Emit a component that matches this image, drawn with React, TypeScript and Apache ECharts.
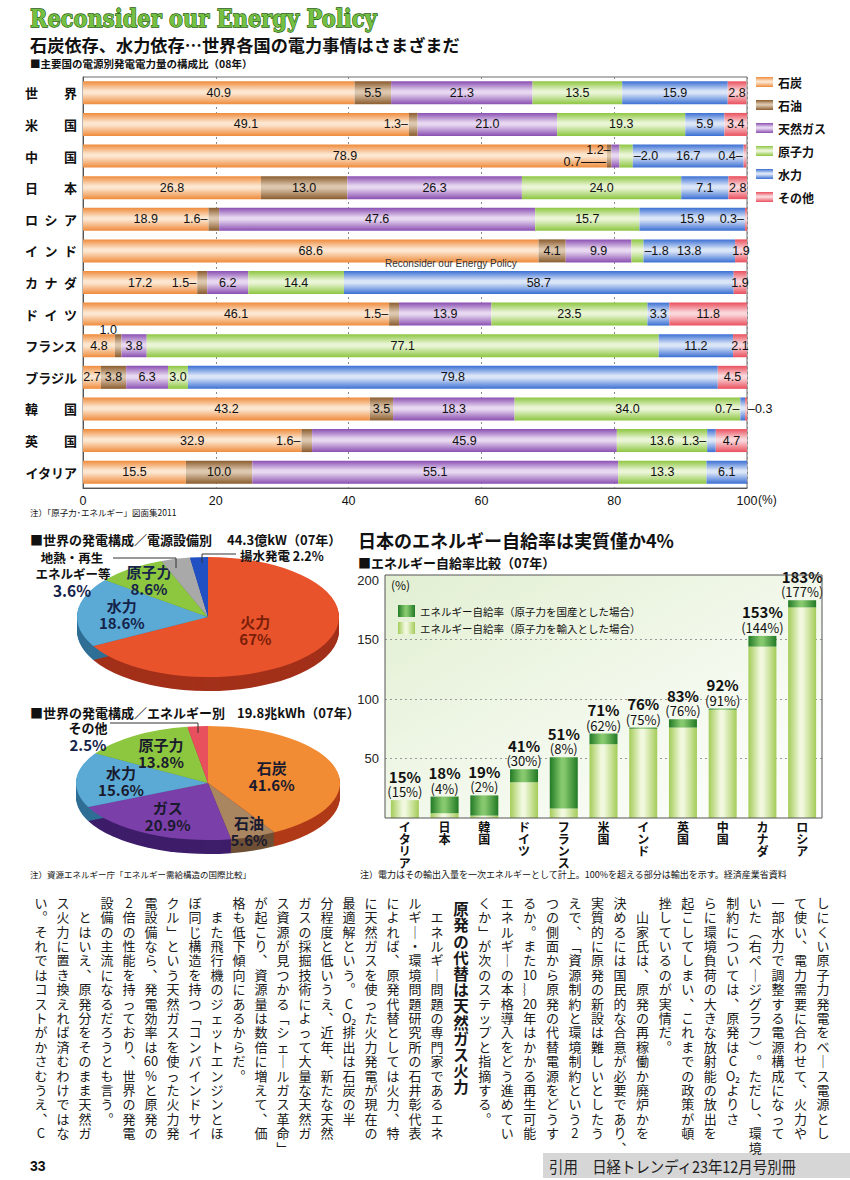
import React, { useEffect, useRef } from 'react';
import * as echarts from 'echarts';

const JP = '"Noto Sans CJK JP", "Noto Sans", sans-serif';
const LAT = '"Liberation Sans", "DejaVu Sans", sans-serif';

// ===== Chart 1: 主要国の電源別発電電力量の構成比（08年）
const countries = ['世界', '米国', '中国', '日本', 'ロシア', 'インド', 'カナダ', 'ドイツ', 'フランス', 'ブラジル', '韓国', '英国', 'イタリア'];
const energyTypes = ['石炭', '石油', '天然ガス', '原子力', '水力', 'その他'];
const coal = [40.9, 49.1, 78.9, 26.8, 18.9, 68.6, 17.2, 46.1, 4.8, 2.7, 43.2, 32.9, 15.5];
const oil = [5.5, 1.3, 0.7, 13.0, 1.6, 4.1, 1.5, 1.5, 1.0, 3.8, 3.5, 1.6, 10.0];
const gas = [21.3, 21.0, 1.2, 26.3, 47.6, 9.9, 6.2, 13.9, 3.8, 6.3, 18.3, 45.9, 55.1];
const nuclear = [13.5, 19.3, 2.0, 24.0, 15.7, 1.8, 14.4, 23.5, 77.1, 3.0, 34.0, 13.6, 13.3];
const hydro = [15.9, 5.9, 16.7, 7.1, 15.9, 13.8, 58.7, 3.3, 11.2, 79.8, 0.7, 1.3, 6.1];
const other = [2.8, 3.4, 0.4, 2.8, 0.3, 1.9, 1.9, 11.8, 2.1, 4.5, 0.3, 4.7, 0];
const shareTicks = [0, 20, 40, 60, 80, 100];
// labels drawn outside a thin segment: [country, energy index, side, dy, dashes]
const outsideLabels: [string, number, string, number, number][] = [
  ['米国', 1, 'left', 0, 1],
  ['中国', 1, 'left', 6, 2],
  ['中国', 2, 'left', -6, 1],
  ['中国', 3, 'right', 0, 1],
  ['中国', 5, 'left', 0, 1],
  ['ロシア', 1, 'left', 0, 1],
  ['ロシア', 5, 'left', 0, 1],
  ['インド', 3, 'right', 0, 1],
  ['カナダ', 1, 'left', 0, 1],
  ['ドイツ', 1, 'left', 0, 1],
  ['フランス', 1, 'top', 0, 0],
  ['韓国', 4, 'left', 0, 1],
  ['韓国', 5, 'right', 0, 1],
  ['英国', 1, 'left', 0, 1],
  ['英国', 4, 'left', 0, 1],
];

// ===== Pies
const capacityNames = ['火力', '水力', '原子力', '地熱・再生エネルギー等', '揚水発電'];
const capacityValues = [67, 18.6, 8.6, 3.6, 2.2];
const generationNames = ['石炭', '石油', 'ガス', '水力', '原子力', 'その他'];
const generationValues = [41.6, 5.6, 20.9, 15.6, 13.8, 2.5];

// ===== Chart 2: エネルギー自給率比較（07年）
const selfCountries = ['イタリア', '日本', '韓国', 'ドイツ', 'フランス', '米国', 'インド', '英国', '中国', 'カナダ', 'ロシア'];
const selfDomestic = [15, 18, 19, 41, 51, 71, 76, 83, 92, 153, 183];
const selfImported = [15, 4, 2, 30, 8, 62, 75, 76, 91, 144, 177];
const selfTicks = [0, 50, 100, 150, 200];
const selfSeriesNames = ['エネルギー自給率（原子力を国産とした場合）', 'エネルギー自給率（原子力を輸入とした場合）'];

// ===== Article (vertical columns, right to left)
const articleRight = [
  'しにくい原子力発電をベース電源とし',
  'て使い、電力需要に合わせて、火力や',
  '一部水力で調整する電源構成になって',
  'いた（右ページグラフ）。ただし、環境',
  '制約については、原発はCO₂よりさ',
  'らに環境負荷の大きな放射能の放出を',
  '起こしてしまい、これまでの政策が頓',
  '挫しているのが実情だ。',
  '　山家氏は、原発の再稼働か廃炉かを',
  '決めるには国民的な合意が必要であり、',
  '実質的に原発の新設は難しいとしたう',
  'えで、「資源制約と環境制約という2',
  'つの側面から原発の代替電源をどうす',
  'るか。また10～20年はかかる再生可能',
  'エネルギーの本格導入をどう進めてい',
  'くか」が次のステップと指摘する。',
];
const articleHeading = '原発の代替は天然ガス火力';
const articleLeft = [
  '　エネルギー問題の専門家であるエネ',
  'ルギー・環境問題研究所の石井彰代表',
  'によれば、原発代替としては火力、特',
  'に天然ガスを使った火力発電が現在の',
  '最適解という。CO₂排出は石炭の半',
  '分程度と低いうえ、近年、新たな天然',
  'ガスの採掘技術によって大量な天然ガ',
  'ス資源が見つかる「シェールガス革命」',
  'が起こり、資源量は数倍に増えて、価',
  '格も低下傾向にあるからだ。',
  '　また飛行機のジェットエンジンとほ',
  'ぼ同じ構造を持つ「コンバインドサイ',
  'クル」という天然ガスを使った火力発',
  '電設備なら、発電効率は60%と原発の',
  '2倍の性能を持っており、世界の発電',
  '設備の主流になるだろうとも言う。',
  '　とはいえ、原発分をそのまま天然ガ',
  'ス火力に置き換えれば済むわけではな',
  'い。それではコストがかさむうえ、C',
];

// ===== styles
const energyColors = ['#EF8B3B', '#8B5C2E', '#8A4FB2', '#8DC641', '#3B6FD3', '#E9505D'];
const energyLights = ['#FCE6D0', '#DCC7AE', '#E7D7F0', '#EAF5D6', '#DAE5F8', '#FAD6DA'];
const capColors = ['#E9532C', '#5BAAD6', '#8DC63F', '#A9A9AA', '#2050C2'];
const capSides = ['#A3301A', '#2F6F95', '#5C8A25', '#6F6F70', '#163A8A'];
const capLabelK = [0.42, 0.66, 0.76, -1, -1];
const capLabelColors = ['#7A1E08', '#15234A', '#15234A', '#111', '#111'];
const genColors = ['#F28C34', '#A98560', '#7B3FA9', '#5BAAD6', '#8DC63F', '#E9505E'];
const genSides = ['#B03A18', '#6E5036', '#3E1D6A', '#2F6F95', '#5C8A25', '#A0303A'];
const genLabelK = [0.5, 0.9, 0.66, 0.66, 0.64, -1];
const genLabelColors = ['#1A1A2E', '#1A1A2E', '#1A1A2E', '#1A1A2E', '#1A1A2E', '#111'];

function gloss(base: string, light: string, horizontal = false) {
  return new echarts.graphic.LinearGradient(0, 0, horizontal ? 1 : 0, horizontal ? 0 : 1, [
    { offset: 0, color: base },
    { offset: 0.42, color: light },
    { offset: 0.52, color: light },
    { offset: 1, color: base },
  ]);
}

function spacedName(s: string) {
  if (s.length === 2) return s[0] + '　　' + s[1];
  if (s.length === 3) return s.split('').join('\u2002');
  return s;
}

const vmap: Record<string, string> = {
  '、': '︑', '。': '︒', '「': '﹁', '」': '﹂', '（': '︵', '）': '︶', 'ー': '｜', '～': '︴', '…': '︙',
};
function vcells(s: string) {
  const cells: string[] = [];
  for (const ch of s) {
    const last = cells[cells.length - 1];
    if (/[0-9]/.test(ch) && last !== undefined && /[0-9]$/.test(last)) { cells[cells.length - 1] = last + ch; continue; }
    if (ch === '₂' && last !== undefined) { cells[cells.length - 1] = last + ch; continue; }
    cells.push(vmap[ch] || ch);
  }
  return cells;
}

function pieSeries(values: number[], names: string[], colors: string[], sides: string[], labelK: number[], labelColors: string[],
  cx: number, cy: number, rx: number, ry: number, depth: number) {
  const total = values.reduce((a, b) => a + b, 0);
  const starts: number[] = [];
  let acc = 0;
  values.forEach((v) => { starts.push(acc); acc += v; });
  const sy = ry / rx;
  const ang = (i: number) => [
    -Math.PI / 2 + (2 * Math.PI * starts[i]) / total,
    -Math.PI / 2 + (2 * Math.PI * (starts[i] + values[i])) / total,
  ];
  const side = {
    type: 'custom', coordinateSystem: 'none', z: 3, silent: true, data: values,
    renderItem: (params: any) => {
      const i = params.dataIndex;
      const [a0, a1] = ang(i);
      const children: any[] = [];
      for (let d = depth; d > 0; d -= 1) {
        children.push({ type: 'sector', shape: { cx: 0, cy: d / sy, r: rx, r0: 0, startAngle: a0, endAngle: a1 }, style: { fill: sides[i] } });
      }
      return { type: 'group', x: cx, y: cy, scaleY: sy, children };
    },
  };
  const top = {
    type: 'custom', coordinateSystem: 'none', z: 4, silent: true, data: values,
    renderItem: (params: any) => {
      const i = params.dataIndex;
      const [a0, a1] = ang(i);
      const children: any[] = [
        { type: 'group', scaleY: sy, children: [{ type: 'sector', shape: { cx: 0, cy: 0, r: rx, r0: 0, startAngle: a0, endAngle: a1 }, style: { fill: colors[i] } }] },
      ];
      if (labelK[i] > 0) {
        const mid = (a0 + a1) / 2;
        children.push({
          type: 'text', x: Math.cos(mid) * rx * labelK[i], y: Math.sin(mid) * ry * labelK[i],
          style: { text: names[i] + '\n' + values[i] + '%', fontFamily: JP, fontWeight: 'bold', fontSize: 15, lineHeight: 17, fill: labelColors[i], align: 'center', verticalAlign: 'middle' },
        });
      }
      return { type: 'group', x: cx, y: cy, children };
    },
  };
  return [side, top];
}

function txt(x: number, y: number, text: string, fontSize: number, extra: any = {}) {
  return {
    type: 'text', x, y, z: 20,
    style: { text, fontSize, fontFamily: JP, fill: '#111', verticalAlign: 'middle', ...extra },
  };
}

function vcol(s: string, x: number, y: number, fontSize: number, lineHeight: number, bold: boolean) {
  return {
    type: 'text', x, y, z: 20,
    style: {
      text: vcells(s).join('\n'), fontSize, lineHeight, fontFamily: JP, fontWeight: bold ? 'bold' : 'normal',
      fill: '#1a1a1a', align: 'center', verticalAlign: 'top',
    },
  };
}

function buildOption() {
  const energyValues = [coal, oil, gas, nuclear, hydro, other];
  const fmt = (v: number) => (v > 0 ? v.toFixed(1) : '');

  const series: any[] = energyTypes.map((name, si) => ({
    type: 'bar', name, stack: 'mix', xAxisIndex: 0, yAxisIndex: 0, barWidth: 23,
    itemStyle: { color: gloss(energyColors[si], energyLights[si]) },
    label: { show: true, position: 'inside', fontSize: 12.5, color: '#111', fontFamily: LAT, formatter: (p: any) => fmt(p.value) },
    data: energyValues[si].map((v, ci) => {
      const o = outsideLabels.find((l) => l[0] === countries[ci] && l[1] === si);
      if (!o) return v;
      const [, , sidePos, dy, dashes] = o;
      const dash = dashes === 2 ? '——' : '–';
      if (sidePos === 'top') {
        return { value: v, label: { position: 'top', distance: -2, offset: [-10, 0], formatter: () => fmt(v) } };
      }
      return {
        value: v,
        label: {
          position: sidePos, distance: 1, offset: [0, dy],
          formatter: () => (sidePos === 'left' ? fmt(v) + dash : dash + fmt(v)),
        },
      };
    }),
  }));

  series.push({
    type: 'bar', name: selfSeriesNames[1], stack: 'self', xAxisIndex: 1, yAxisIndex: 1, barWidth: 28,
    itemStyle: { color: gloss('#A4CC58', '#F1F8DE', true) },
    data: selfImported,
  });
  series.push({
    type: 'bar', name: selfSeriesNames[0], stack: 'self', xAxisIndex: 1, yAxisIndex: 1, barWidth: 28,
    itemStyle: { color: gloss('#217A24', '#86C86E', true) },
    data: selfDomestic.map((d, i) => d - selfImported[i]),
    label: {
      show: true, position: 'top', distance: 1,
      formatter: (p: any) => `{a|${selfDomestic[p.dataIndex]}%}\n{b|(${selfImported[p.dataIndex]}%)}`,
      rich: {
        a: { fontSize: 15, fontWeight: 'bold', color: '#111', fontFamily: JP, lineHeight: 16 },
        b: { fontSize: 13, color: '#111', fontFamily: JP, lineHeight: 15 },
      },
    },
  });

  series.push(...pieSeries(capacityValues, capacityNames, capColors, capSides, capLabelK, capLabelColors, 208, 617, 131, 60, 14));
  series.push(...pieSeries(generationValues, generationNames, genColors, genSides, genLabelK, genLabelColors, 208, 783, 132, 57, 14));

  const graphics: any[] = [
    { type: 'rect', z: -10, shape: { x: 0, y: 0, width: 850, height: 1180 }, style: { fill: '#ffffff' } },
    // chart 2 background & frame
    {
      type: 'rect', z: -5, shape: { x: 385, y: 575, width: 437, height: 243 },
      style: { fill: new echarts.graphic.LinearGradient(0, 0, 1, 1, [{ offset: 0, color: '#E2EFD2' }, { offset: 0.6, color: '#F4F9EE' }, { offset: 1, color: '#FFFFFF' }]) },
    },
    { type: 'rect', z: 30, shape: { x: 385, y: 575, width: 437, height: 243 }, style: { fill: 'none', stroke: '#555', lineWidth: 1 } },
    // headings
    {
      type: 'group', x: 30, y: 18, scaleX: 0.84, z: 20,
      children: [{ type: 'text', z: 20, style: { text: 'Reconsider our Energy Policy', fontFamily: '"DejaVu Serif", serif', fontWeight: 'bold', fontSize: 25, fill: '#74C043', stroke: '#1E5A0C', lineWidth: 1.3, verticalAlign: 'middle' } }],
    },
    txt(30, 44, '石炭依存、水力依存…世界各国の電力事情はさまざまだ', 17.2, { fontWeight: 'bold' }),
    txt(30, 63, '■主要国の電源別発電電力量の構成比（08年）', 10.5, { fontWeight: 'bold' }),
    txt(385, 263, 'Reconsider our Energy Policy', 10, { fontFamily: '"Liberation Sans Narrow", "Liberation Sans", sans-serif', fill: '#333' }),
    txt(758, 500, '(%)', 12, { fontFamily: LAT }),
    txt(30, 512, '注）「原子力･エネルギー」図面集2011', 8.5),
    // pie titles
    txt(30, 539, '■世界の発電構成／電源設備別', 13, { fontWeight: 'bold' }),
    txt(227, 539, '44.3億kW（07年）', 13, { fontWeight: 'bold' }),
    txt(30, 712, '■世界の発電構成／エネルギー別', 13, { fontWeight: 'bold' }),
    txt(237, 712, '19.8兆kWh（07年）', 13, { fontWeight: 'bold' }),
    // pie 1 outside labels
    txt(72, 557, '地熱・再生', 12.5, { fontWeight: 'bold', align: 'center' }),
    txt(73, 573, 'エネルギー等', 12.5, { fontWeight: 'bold', align: 'center' }),
    txt(72, 590, '3.6%', 15.5, { fontWeight: 'bold', align: 'center', fill: '#15234A' }),
    { type: 'polyline', z: 20, shape: { points: [[113, 558], [176, 558], [176, 568]] }, style: { stroke: '#333', lineWidth: 1, fill: 'none' } },
    txt(240, 555, '揚水発電 2.2%', 12.5, { fontWeight: 'bold' }),
    { type: 'polyline', z: 20, shape: { points: [[236, 554], [202, 554], [202, 563]] }, style: { stroke: '#333', lineWidth: 1, fill: 'none' } },
    // pie 2 outside label
    txt(88, 727, 'その他', 13, { fontWeight: 'bold', align: 'center' }),
    txt(88, 744, '2.5%', 15, { fontWeight: 'bold', align: 'center', fill: '#15234A' }),
    { type: 'polyline', z: 20, shape: { points: [[110, 723], [198, 723], [198, 733]] }, style: { stroke: '#333', lineWidth: 1, fill: 'none' } },
    txt(30, 874, '注）資源エネルギー庁「エネルギー需給構造の国際比較」', 8.5),
    // chart 2 headings
    txt(358, 540, '日本のエネルギー自給率は実質僅か4%', 18, { fontWeight: 'bold' }),
    txt(358, 562, '■エネルギー自給率比較（07年）', 13, { fontWeight: 'bold' }),
    txt(391, 584, '(%)', 12),
    txt(360, 874, '注）電力はその輸出入量を一次エネルギーとして計上。100%を超える部分は輸出を示す。経済産業省資料', 9),
    // footer
    txt(30, 1166, '33', 14, { fontWeight: 'bold', fontFamily: LAT }),
    { type: 'rect', z: 15, shape: { x: 543, y: 1153, width: 307, height: 25 }, style: { fill: '#D6D6D6' } },
    {
      type: 'group', x: 549, y: 1166, scaleX: 0.9, z: 20,
      children: [{ type: 'text', z: 25, style: { text: '引用　日経トレンディ23年12月号別冊', fontSize: 16, fontFamily: JP, fill: '#222', verticalAlign: 'middle' } }],
    },
  ];

  articleRight.forEach((s, k) => graphics.push(vcol(s, 823 - k * 22.55, 895, 13, 14.4, false)));
  graphics.push(vcol(articleHeading, 461, 900, 15.5, 16.2, true));
  articleLeft.forEach((s, k) => graphics.push(vcol(s, 437 - k * 22, 895, 13, 14.4, false)));

  return {
    animation: false,
    backgroundColor: '#ffffff',
    grid: [
      { left: 83, top: 77, width: 664, height: 411, show: true, borderColor: '#6a6a6a', borderWidth: 1, backgroundColor: 'rgba(0,0,0,0)' },
      { left: 385, top: 580, width: 437, height: 238, show: false },
    ],
    xAxis: [
      {
        type: 'value', gridIndex: 0, min: shareTicks[0], max: shareTicks[shareTicks.length - 1], interval: 20,
        axisLine: { show: true, lineStyle: { color: '#555' } }, axisTick: { show: false },
        axisLabel: { fontSize: 12.5, color: '#111', fontFamily: LAT, margin: 6 },
        splitLine: { show: true, lineStyle: { color: '#8a8a8a', type: [2, 3], width: 1 } },
      },
      {
        type: 'category', gridIndex: 1, data: selfCountries,
        axisLine: { show: false }, axisTick: { show: false },
        axisLabel: { interval: 0, fontFamily: JP, fontWeight: 'bold', fontSize: 12, lineHeight: 12.2, color: '#111', margin: 2, formatter: (v: string) => v.split('').join('\n') },
      },
    ],
    yAxis: [
      {
        type: 'category', gridIndex: 0, data: countries, inverse: true,
        axisLine: { show: true, lineStyle: { color: '#555' } }, axisTick: { show: false },
        axisLabel: { fontFamily: JP, fontWeight: 'bold', fontSize: 13, color: '#111', margin: 6, formatter: spacedName },
      },
      {
        type: 'value', gridIndex: 1, min: selfTicks[0], max: selfTicks[selfTicks.length - 1], interval: 50,
        axisLine: { show: false }, axisTick: { show: false },
        axisLabel: { fontFamily: LAT, fontSize: 13, color: '#222', margin: 6, formatter: (v: number) => (v > 0 && selfTicks.includes(v) ? String(v) : '') },
        splitLine: { show: true, lineStyle: { color: ['rgba(0,0,0,0)', '#999', '#999', '#999', 'rgba(0,0,0,0)'], type: [2, 3] } },
      },
    ],
    legend: [
      {
        data: energyTypes, orient: 'vertical', left: 751, top: 71, itemWidth: 17, itemHeight: 10, itemGap: 11, icon: 'rect',
        selectedMode: false, textStyle: { fontSize: 12, fontWeight: 'bold', color: '#111', fontFamily: JP },
      },
      {
        data: [selfSeriesNames[0], selfSeriesNames[1]], orient: 'vertical', left: 393, top: 600, itemWidth: 17, itemHeight: 12, itemGap: 5, icon: 'rect',
        selectedMode: false, textStyle: { fontSize: 10.5, color: '#111', fontFamily: JP },
      },
    ],
    series,
    graphic: { elements: graphics },
  };
}

export default function App() {
  const ref = useRef<HTMLDivElement>(null);
  useEffect(() => {
    document.body.style.margin = '0';
    const chart = echarts.init(ref.current as HTMLDivElement, null, { renderer: 'svg' });
    chart.setOption(buildOption() as any);
    return () => chart.dispose();
  }, []);
  return <div ref={ref} style={{ width: 850, height: 1180, background: '#ffffff' }} />;
}
